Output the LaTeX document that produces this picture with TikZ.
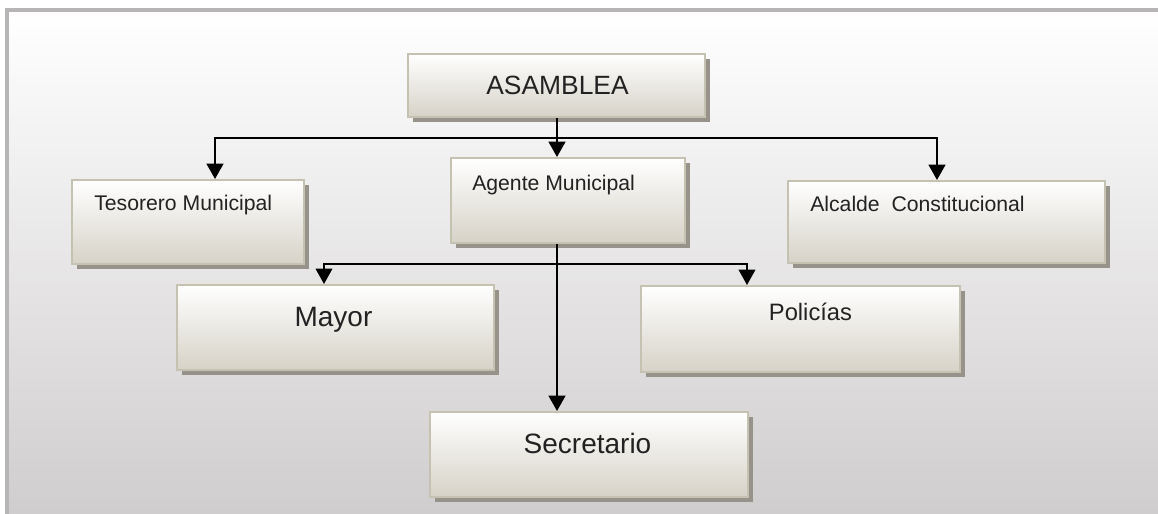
\documentclass[tikz,border=0pt]{standalone}
\usepackage{fontspec}
\setmainfont{Liberation Sans}
\usetikzlibrary{arrows.meta,calc,shadows}
\definecolor{bgbot}{HTML}{D0CDCE}
\definecolor{frame}{HTML}{B8B5B6}
\definecolor{boxbot}{HTML}{D6D2C7}
\definecolor{boxmid}{HTML}{EDEBE6}
\definecolor{boxline}{HTML}{C6C2B2}
\definecolor{shadowc}{HTML}{97938B}
\definecolor{txt}{HTML}{222222}
\tikzset{
  orgbox/.style={rectangle, draw=boxline, line width=1.5pt,
    top color=white, middle color=boxmid, bottom color=boxbot,
    drop shadow={shadow xshift=3.4pt, shadow yshift=-3.4pt, fill=shadowc, opacity=1},
    inner sep=0pt},
  lbl/.style={inner sep=0pt, text=txt},
  conn/.style={draw=black, line width=1.8pt},
  arr/.style={conn, -{Triangle[width=12.5pt,length=11.5pt]}},
  tharr/.style={draw=black, line width=1.2pt, -{Triangle[width=12.5pt,length=11.5pt]}}
}
\begin{document}
\begin{tikzpicture}[x=0.75pt,y=-0.75pt]
\useasboundingbox (0,0) rectangle (1158,514);
% background panel
\fill[white] (0,0) rectangle (1158,514);
\shade[top color=white, bottom color=bgbot] (7,10) rectangle (1158,514);
\draw[frame, line width=2.4pt] (7,514) -- (7,10) -- (1158,10);

% boxes
\node[orgbox, minimum width=222.75pt, minimum height=47.25pt] (asam) at (556.5,85.5) {};
\node[orgbox, minimum width=175.5pt, minimum height=63.75pt] (agen) at (568,200.5) {};
\node[orgbox, minimum width=174pt, minimum height=63pt] (tes) at (188,222) {};
\node[orgbox, minimum width=237.75pt, minimum height=61.5pt] (alc) at (946.5,222) {};
\node[orgbox, minimum width=237.75pt, minimum height=63.75pt] (mayo) at (335.5,327.5) {};
\node[orgbox, minimum width=239.25pt, minimum height=64.5pt] (poli) at (800.5,329) {};
\node[orgbox, minimum width=238.5pt, minimum height=63.75pt] (secr) at (589,454.5) {};

% labels
\node[lbl, anchor=base, font=\fontsize{19.8pt}{22pt}\selectfont] (tasam) at (557.5,94.2) {ASAMBLEA};
\node[lbl, anchor=base west, font=\fontsize{15.9pt}{18pt}\selectfont] (tagen) at (472,190) {Agente Municipal};
\node[lbl, anchor=base west, font=\fontsize{15.9pt}{18pt}\selectfont] (ttes) at (94,210.5) {Tesorero Municipal};
\node[lbl, anchor=base west, font=\fontsize{15.9pt}{18pt}\selectfont] (talc) at (810,211.5) {Alcalde\ \ Constitucional};
\node[lbl, anchor=base, font=\fontsize{21pt}{24pt}\selectfont] (tmayo) at (333.5,326) {Mayor};
\node[lbl, anchor=base, font=\fontsize{17.8pt}{20pt}\selectfont] (tpoli) at (810.5,320) {Policías};
\node[lbl, anchor=base, font=\fontsize{21pt}{24pt}\selectfont] (tsecr) at (587.5,453.5) {Secretario};

% connectors
\coordinate (bus1) at (557,138);
\coordinate (bus2) at (557,264);
\draw[conn] (asam.south -| bus1) -- (bus1);
\draw[arr] (bus1) -| ($(tes.north)+(27,0)$);
\draw[arr] (bus1) -| ($(alc.north)+(-9.5,0)$);
\draw[arr] (bus1) -- (agen.north -| bus1);
\draw[arr] (agen.south -| bus2) -- (secr.north -| bus2);
\draw[tharr] (bus2) -| ($(mayo.north)+(-11.5,0)$);
\draw[tharr] (bus2) -| ($(poli.north)+(-53.5,0)$);
\end{tikzpicture}
\end{document}
